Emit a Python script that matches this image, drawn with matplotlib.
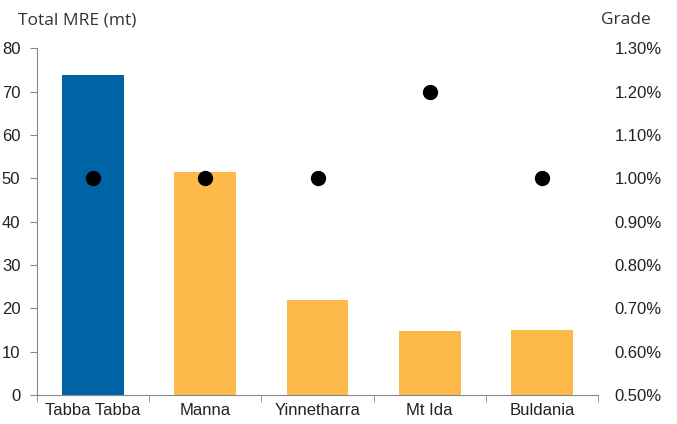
import matplotlib
matplotlib.use("Agg")
import matplotlib.pyplot as plt
from matplotlib.ticker import FuncFormatter

# data
projects = ["Tabba Tabba", "Manna", "Yinnetharra", "Mt Ida", "Buldania"]
mre_mt = [73.9, 51.5, 21.9, 14.8, 15.0]
grade_pct = [1.00, 1.00, 1.00, 1.20, 1.00]
bar_colors = ["#0063A5", "#FDB94A", "#FDB94A", "#FDB94A", "#FDB94A"]

plt.rcParams["font.family"] = ["Liberation Sans", "DejaVu Sans"]
text_col = "#222222"
axis_col = "#888888"

fig = plt.figure(figsize=(6.77, 4.24), dpi=100)
ax = fig.add_axes([0.0547, 0.0684, 0.8286, 0.818])

x = list(range(len(projects)))
ax.bar(x, mre_mt, width=0.55, color=bar_colors, zorder=2)
ax.set_xlim(-0.5, len(projects) - 0.5)
ax.set_ylim(0, 80)
ax.set_yticks(range(0, 81, 10))
ax.set_xticks(x)
ax.set_xticklabels(projects)
ax.set_xticks([i + 0.5 for i in range(-1, len(projects))], minor=True)
ax.tick_params(axis="x", which="major", length=0, pad=6, labelsize=12, labelcolor=text_col)
ax.tick_params(axis="x", which="minor", length=5, color=axis_col, direction="out")
ax.tick_params(axis="y", length=5, color=axis_col, labelsize=12, labelcolor=text_col, pad=7)
for s in ["top", "right"]:
    ax.spines[s].set_visible(False)
ax.spines["left"].set_color(axis_col)
ax.spines["bottom"].set_color(axis_col)

ax2 = ax.twinx()
ax2.plot(x, grade_pct, "o", color="black", markersize=10, zorder=3)
ax2.set_ylim(0.5, 1.3)
ax2.set_yticks([0.5 + 0.1 * i for i in range(9)])
ax2.yaxis.set_major_formatter(FuncFormatter(lambda v, p: f"{v:.2f}%"))
ax2.tick_params(axis="y", length=0, labelsize=12, labelcolor=text_col, pad=12)
for s in ["top", "right", "left", "bottom"]:
    ax2.spines[s].set_visible(False)

fig.text(0.026, 0.952, "Total MRE (mt)", fontsize=12.5, color="#333333",
         family=["Open Sans", "DejaVu Sans"], ha="left", va="center")
fig.text(0.961, 0.952, "Grade", fontsize=12.5, color="#333333",
         family=["Open Sans", "DejaVu Sans"], ha="right", va="center")

fig.savefig("out.png", dpi=100)
